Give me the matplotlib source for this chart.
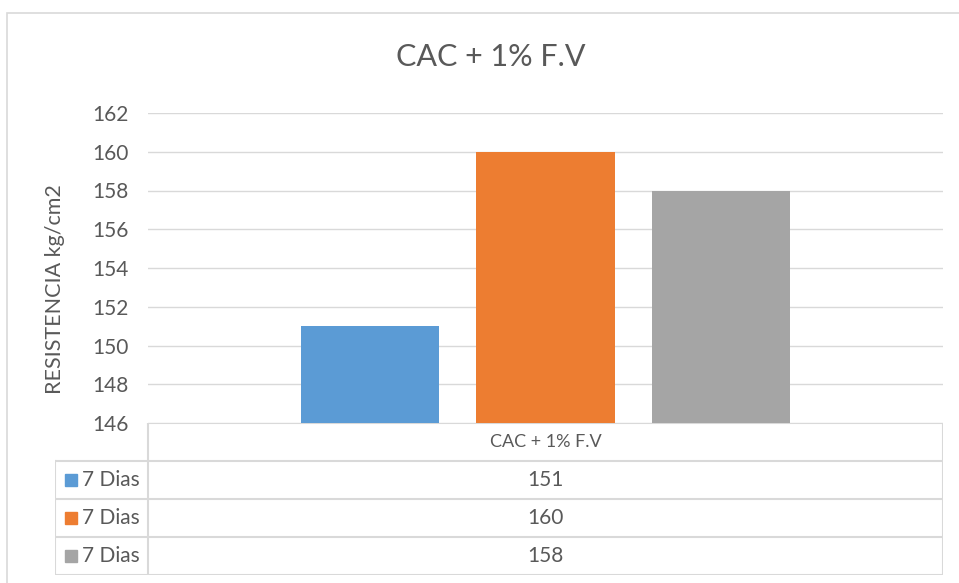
import matplotlib.pyplot as plt
from matplotlib.patches import Rectangle

# datos del ensayo
categoria = "CAC + 1% F.V"
series = ["7 Dias", "7 Dias", "7 Dias"]
valores = [151, 160, 158]
colores = ["#5B9BD5", "#ED7D31", "#A5A5A5"]
ticks_y = [146, 148, 150, 152, 154, 156, 158, 160, 162]

W, H = 959, 583
texto = "#595959"
linea = "#D9D9D9"
plt.rcParams['font.family'] = ['Lato', 'DejaVu Sans']

fig = plt.figure(figsize=(W / 100, H / 100), dpi=100)

def px(x0, y0, x1, y1):
    # caja en pixeles (origen arriba a la izquierda) -> fraccion de figura
    return [x0 / W, 1 - y1 / H, (x1 - x0) / W, (y1 - y0) / H]

# borde exterior del grafico
fig.patches.append(Rectangle((7 / W, -0.1), 1.1, 1 - 13 / H + 0.1,
                             transform=fig.transFigure, fill=False,
                             edgecolor=linea, linewidth=1.2))

x_izq, x_der, y_sup, y_inf = 148, 943, 113, 423
ax = fig.add_axes(px(x_izq, y_sup, x_der, y_inf))

ancho = 0.174
desplaz = [-0.221, 0.0, 0.221]
for d, v, c in zip(desplaz, valores, colores):
    ax.bar(d, v, width=ancho, color=c, zorder=2)

ax.set_xlim(-0.5, 0.5)
ax.set_ylim(ticks_y[0], ticks_y[-1])
ax.set_yticks(ticks_y)
ax.set_xticks([])
ax.tick_params(axis='y', length=0, labelsize=15, colors=texto, pad=14)
ax.grid(axis='y', color=linea, linewidth=1, zorder=0)
for s in ax.spines.values():
    s.set_visible(False)
ax.set_ylabel("RESISTENCIA kg/cm2", fontsize=15.5, color=texto)
ax.yaxis.set_label_coords(-0.104, 0.432)

fig.text(491 / W, 1 - 57 / H, categoria, ha='center', va='center',
         fontsize=22, color=texto)

# tabla de datos bajo el eje
fila = 38
x_tab = 55
tab = fig.add_axes(px(x_tab, y_inf, x_der, y_inf + fila * 4))
tab.set_xlim(x_tab, x_der)
tab.set_ylim(y_inf + fila * 4, y_inf)
tab.axis('off')

lw = 1.5
# cabecera
tab.plot([x_izq, x_der], [y_inf, y_inf], color=linea, lw=lw)
tab.plot([x_izq, x_izq], [y_inf, y_inf + fila * 4], color=linea, lw=lw)
tab.plot([x_der, x_der], [y_inf, y_inf + fila * 4], color=linea, lw=lw)
tab.plot([x_tab, x_tab], [y_inf + fila, y_inf + fila * 4], color=linea, lw=lw)
for i in range(1, 5):
    y = y_inf + fila * i
    tab.plot([x_tab, x_der], [y, y], color=linea, lw=lw)

x_centro = (x_izq + x_der) / 2
tab.text(x_centro, y_inf + fila / 2, categoria, ha='center', va='center',
         fontsize=13, color=texto)
for i, (nombre, v, c) in enumerate(zip(series, valores, colores)):
    yc = y_inf + fila * (i + 1.5)
    tab.add_patch(Rectangle((x_tab + 10, yc - 6), 12, 12, color=c))
    tab.text(x_tab + 27, yc, nombre, ha='left', va='center',
             fontsize=15, color=texto)
    tab.text(x_centro, yc, str(v), ha='center', va='center',
             fontsize=15, color=texto)

fig.savefig("out.png", dpi=100)
